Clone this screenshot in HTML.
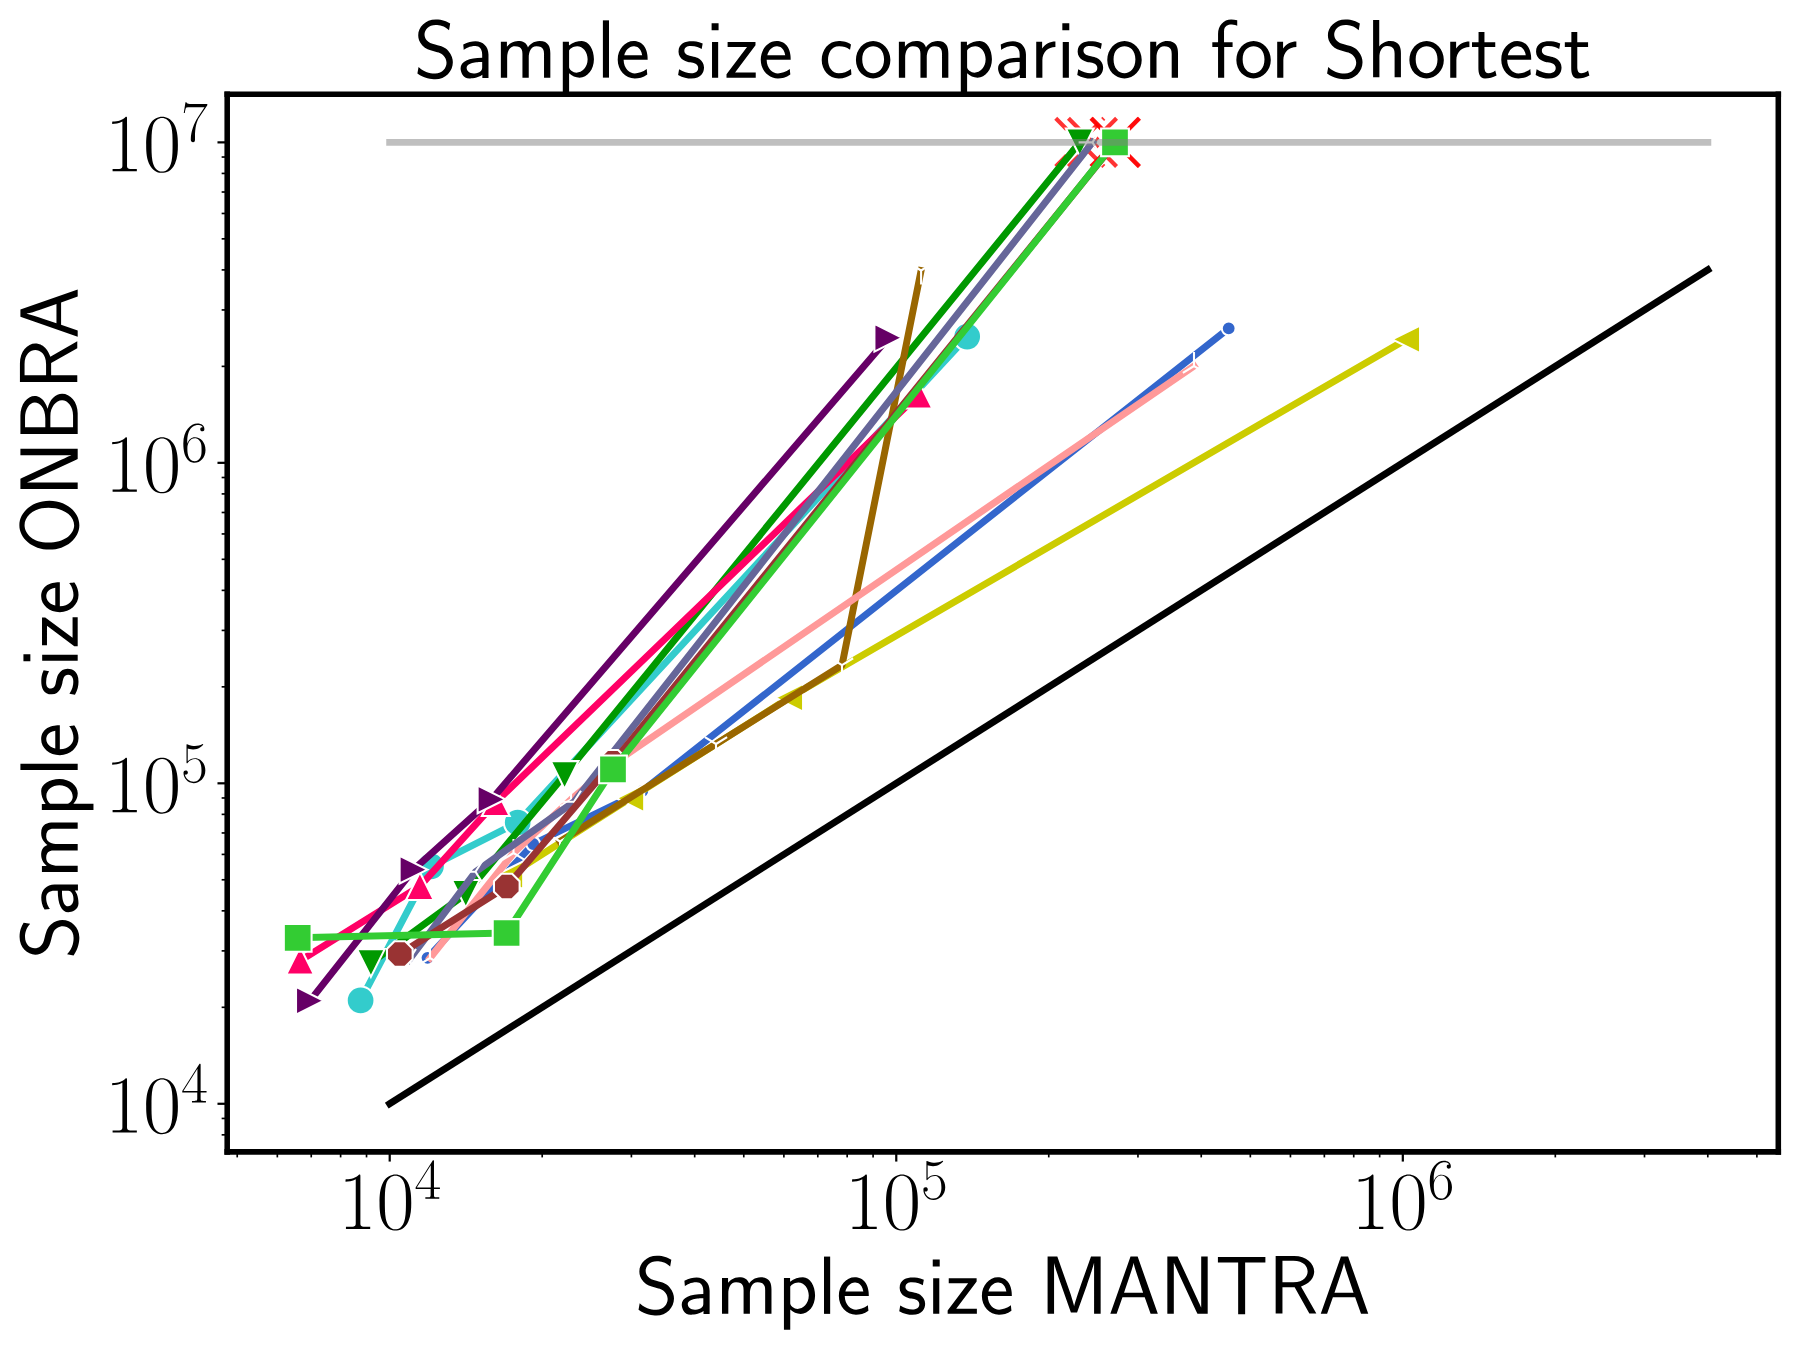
<!DOCTYPE html>
<html><head><meta charset="utf-8"><title>Sample size comparison for Shortest</title>
<style>html,body{margin:0;padding:0;background:#fff;overflow:hidden;font-family:"Liberation Sans",sans-serif}svg{display:block}</style>
</head><body>
<svg width="1798" height="1350" viewBox="0 0 647.28 486" version="1.1">
<defs>
<style type="text/css">*{stroke-linejoin: round; stroke-linecap: butt}</style>
</defs>
<g id="figure_1">
<g id="patch_1">
<path d="M 0 486
L 647.28 486
L 647.28 0
L 0 0
z
" style="fill: #ffffff"/>
</g>
<g id="axes_1">
<g id="patch_2">
<path d="M 81.792 414.666
L 640.188 414.666
L 640.188 33.948
L 81.792 33.948
z
" style="fill: #ffffff"/>
</g>
<g id="PathCollection_1">
<path d="M 380.067746 59.913618
L 397.388254 42.59311
M 380.067746 42.59311
L 397.388254 59.913618
" clip-path="url(#pe39c91df15)" style="fill: #ff0000; fill-opacity: 0.8; stroke-dasharray: 5.55,2.4; stroke-dashoffset: 0; stroke: #ff0000; stroke-opacity: 0.8; stroke-width: 1.5"/>
<path d="M 384.639746 59.913618
L 401.960254 42.59311
M 384.639746 42.59311
L 401.960254 59.913618
" clip-path="url(#pe39c91df15)" style="fill: #ff0000; fill-opacity: 0.8; stroke-dasharray: 5.55,3.9225; stroke-dashoffset: 0; stroke: #ff0000; stroke-opacity: 0.8; stroke-width: 1.5"/>
<path d="M 392.919746 59.913618
L 410.240254 42.59311
M 392.919746 42.59311
L 410.240254 59.913618
" clip-path="url(#pe39c91df15)" style="fill: #ff0000; fill-opacity: 0.8; stroke-dasharray: 5.55,3.9225; stroke-dashoffset: 0; stroke: #ff0000; stroke-opacity: 0.8; stroke-width: 1.5"/>
<path d="M 392.739746 59.913618
L 410.060254 42.59311
M 392.739746 42.59311
L 410.060254 59.913618
" clip-path="url(#pe39c91df15)" style="fill: #ff0000; fill-opacity: 0.8; stroke-dasharray: 5.55,3.9225; stroke-dashoffset: 0; stroke: #ff0000; stroke-opacity: 0.8; stroke-width: 1.5"/>
</g>
<g id="matplotlib.axis_1">
<g id="xtick_1">
<g id="line2d_1">
<defs>
<path id="m7c25c535dc" d="M 0 0
L 0 3.5
" style="stroke: #000000; stroke-width: 0.8"/>
</defs>
<g>
<use href="#m7c25c535dc" x="140.295691" y="414.666" style="stroke: #000000; stroke-width: 0.8"/>
</g>
</g>
<g id="text_1">
<!-- $\mathdefault{10^{4}}$ -->
<g transform="translate(121.791071 442.421495) scale(0.3 -0.3)">
<defs>
<path id="CMR17-31" d="M 1702 4058
C 1702 4192 1696 4192 1606 4192
C 1357 3916 979 3827 621 3827
C 602 3827 570 3827 563 3808
C 557 3795 557 3782 557 3648
C 755 3648 1088 3686 1344 3839
L 1344 461
C 1344 236 1331 160 781 160
L 589 160
L 589 0
C 896 0 1216 0 1523 0
C 1830 0 2150 0 2458 0
L 2458 160
L 2266 160
C 1715 160 1702 230 1702 458
L 1702 4058
z
" transform="scale(0.015625)"/>
<path id="CMR17-30" d="M 2688 2025
C 2688 2416 2682 3080 2413 3591
C 2176 4039 1798 4198 1466 4198
C 1158 4198 768 4058 525 3597
C 269 3118 243 2524 243 2025
C 243 1661 250 1106 448 619
C 723 -39 1216 -128 1466 -128
C 1760 -128 2208 -7 2470 600
C 2662 1042 2688 1559 2688 2025
z
M 1466 -26
C 1056 -26 813 325 723 812
C 653 1188 653 1738 653 2096
C 653 2588 653 2997 736 3387
C 858 3929 1216 4096 1466 4096
C 1728 4096 2067 3923 2189 3400
C 2272 3036 2278 2607 2278 2096
C 2278 1680 2278 1169 2202 792
C 2067 95 1690 -26 1466 -26
z
" transform="scale(0.015625)"/>
<path id="CMR17-34" d="M 2150 4122
C 2150 4256 2144 4256 2029 4256
L 128 1254
L 128 1088
L 1779 1088
L 1779 457
C 1779 224 1766 160 1318 160
L 1197 160
L 1197 0
C 1402 0 1747 0 1965 0
C 2182 0 2528 0 2733 0
L 2733 160
L 2611 160
C 2163 160 2150 224 2150 457
L 2150 1088
L 2803 1088
L 2803 1254
L 2150 1254
L 2150 4122
z
M 1798 3703
L 1798 1254
L 256 1254
L 1798 3703
z
" transform="scale(0.015625)"/>
</defs>
<use href="#CMR17-31" transform="scale(0.996264)"/>
<use href="#CMR17-30" transform="translate(45.690477 0) scale(0.996264)"/>
<use href="#CMR17-34" transform="translate(91.380954 36.153639) scale(0.697382)"/>
</g>
</g>
</g>
<g id="xtick_2">
<g id="line2d_2">
<g>
<use href="#m7c25c535dc" x="322.655279" y="414.666" style="stroke: #000000; stroke-width: 0.8"/>
</g>
</g>
<g id="text_2">
<!-- $\mathdefault{10^{5}}$ -->
<g transform="translate(304.150659 442.421495) scale(0.3 -0.3)">
<defs>
<path id="CMR17-35" d="M 730 3692
C 794 3666 1056 3584 1325 3584
C 1920 3584 2246 3911 2432 4100
C 2432 4157 2432 4192 2394 4192
C 2387 4192 2374 4192 2323 4163
C 2099 4058 1837 3973 1517 3973
C 1325 3973 1037 3999 723 4139
C 653 4171 640 4171 634 4171
C 602 4171 595 4164 595 4037
L 595 2203
C 595 2089 595 2057 659 2057
C 691 2057 704 2070 736 2114
C 941 2401 1222 2522 1542 2522
C 1766 2522 2246 2382 2246 1289
C 2246 1085 2246 715 2054 421
C 1894 159 1645 25 1370 25
C 947 25 518 320 403 814
C 429 807 480 795 506 795
C 589 795 749 840 749 1038
C 749 1210 627 1280 506 1280
C 358 1280 262 1190 262 1011
C 262 454 704 -128 1382 -128
C 2042 -128 2669 440 2669 1264
C 2669 2030 2170 2624 1549 2624
C 1222 2624 947 2503 730 2274
L 730 3692
z
" transform="scale(0.015625)"/>
</defs>
<use href="#CMR17-31" transform="scale(0.996264)"/>
<use href="#CMR17-30" transform="translate(45.690477 0) scale(0.996264)"/>
<use href="#CMR17-35" transform="translate(91.380954 36.153639) scale(0.697382)"/>
</g>
</g>
</g>
<g id="xtick_3">
<g id="line2d_3">
<g>
<use href="#m7c25c535dc" x="505.014867" y="414.666" style="stroke: #000000; stroke-width: 0.8"/>
</g>
</g>
<g id="text_3">
<!-- $\mathdefault{10^{6}}$ -->
<g transform="translate(486.510247 442.421495) scale(0.3 -0.3)">
<defs>
<path id="CMR17-36" d="M 678 2176
C 678 3690 1395 4032 1811 4032
C 1946 4032 2272 4009 2400 3776
C 2298 3776 2106 3776 2106 3553
C 2106 3381 2246 3323 2336 3323
C 2394 3323 2566 3348 2566 3560
C 2566 3954 2246 4179 1805 4179
C 1043 4179 243 3390 243 1984
C 243 253 966 -128 1478 -128
C 2099 -128 2688 427 2688 1283
C 2688 2081 2170 2662 1517 2662
C 1126 2662 838 2407 678 1960
L 678 2176
z
M 1478 25
C 691 25 691 1200 691 1436
C 691 1896 909 2560 1504 2560
C 1613 2560 1926 2560 2138 2120
C 2253 1870 2253 1609 2253 1289
C 2253 944 2253 690 2118 434
C 1978 171 1773 25 1478 25
z
" transform="scale(0.015625)"/>
</defs>
<use href="#CMR17-31" transform="scale(0.996264)"/>
<use href="#CMR17-30" transform="translate(45.690477 0) scale(0.996264)"/>
<use href="#CMR17-36" transform="translate(91.380954 36.153639) scale(0.697382)"/>
</g>
</g>
</g>
<g id="xtick_4">
<g id="line2d_4">
<defs>
<path id="m0d65b069a9" d="M 0 0
L 0 2
" style="stroke: #000000; stroke-width: 0.6"/>
</defs>
<g>
<use href="#m0d65b069a9" x="85.399985" y="414.666" style="stroke: #000000; stroke-width: 0.6"/>
</g>
</g>
</g>
<g id="xtick_5">
<g id="line2d_5">
<g>
<use href="#m0d65b069a9" x="99.839445" y="414.666" style="stroke: #000000; stroke-width: 0.6"/>
</g>
</g>
</g>
<g id="xtick_6">
<g id="line2d_6">
<g>
<use href="#m0d65b069a9" x="112.047834" y="414.666" style="stroke: #000000; stroke-width: 0.6"/>
</g>
</g>
</g>
<g id="xtick_7">
<g id="line2d_7">
<g>
<use href="#m0d65b069a9" x="122.623221" y="414.666" style="stroke: #000000; stroke-width: 0.6"/>
</g>
</g>
</g>
<g id="xtick_8">
<g id="line2d_8">
<g>
<use href="#m0d65b069a9" x="131.951374" y="414.666" style="stroke: #000000; stroke-width: 0.6"/>
</g>
</g>
</g>
<g id="xtick_9">
<g id="line2d_9">
<g>
<use href="#m0d65b069a9" x="195.191397" y="414.666" style="stroke: #000000; stroke-width: 0.6"/>
</g>
</g>
</g>
<g id="xtick_10">
<g id="line2d_10">
<g>
<use href="#m0d65b069a9" x="227.303327" y="414.666" style="stroke: #000000; stroke-width: 0.6"/>
</g>
</g>
</g>
<g id="xtick_11">
<g id="line2d_11">
<g>
<use href="#m0d65b069a9" x="250.087103" y="414.666" style="stroke: #000000; stroke-width: 0.6"/>
</g>
</g>
</g>
<g id="xtick_12">
<g id="line2d_12">
<g>
<use href="#m0d65b069a9" x="267.759573" y="414.666" style="stroke: #000000; stroke-width: 0.6"/>
</g>
</g>
</g>
<g id="xtick_13">
<g id="line2d_13">
<g>
<use href="#m0d65b069a9" x="282.199033" y="414.666" style="stroke: #000000; stroke-width: 0.6"/>
</g>
</g>
</g>
<g id="xtick_14">
<g id="line2d_14">
<g>
<use href="#m0d65b069a9" x="294.407422" y="414.666" style="stroke: #000000; stroke-width: 0.6"/>
</g>
</g>
</g>
<g id="xtick_15">
<g id="line2d_15">
<g>
<use href="#m0d65b069a9" x="304.982809" y="414.666" style="stroke: #000000; stroke-width: 0.6"/>
</g>
</g>
</g>
<g id="xtick_16">
<g id="line2d_16">
<g>
<use href="#m0d65b069a9" x="314.310962" y="414.666" style="stroke: #000000; stroke-width: 0.6"/>
</g>
</g>
</g>
<g id="xtick_17">
<g id="line2d_17">
<g>
<use href="#m0d65b069a9" x="377.550985" y="414.666" style="stroke: #000000; stroke-width: 0.6"/>
</g>
</g>
</g>
<g id="xtick_18">
<g id="line2d_18">
<g>
<use href="#m0d65b069a9" x="409.662915" y="414.666" style="stroke: #000000; stroke-width: 0.6"/>
</g>
</g>
</g>
<g id="xtick_19">
<g id="line2d_19">
<g>
<use href="#m0d65b069a9" x="432.446691" y="414.666" style="stroke: #000000; stroke-width: 0.6"/>
</g>
</g>
</g>
<g id="xtick_20">
<g id="line2d_20">
<g>
<use href="#m0d65b069a9" x="450.119161" y="414.666" style="stroke: #000000; stroke-width: 0.6"/>
</g>
</g>
</g>
<g id="xtick_21">
<g id="line2d_21">
<g>
<use href="#m0d65b069a9" x="464.558621" y="414.666" style="stroke: #000000; stroke-width: 0.6"/>
</g>
</g>
</g>
<g id="xtick_22">
<g id="line2d_22">
<g>
<use href="#m0d65b069a9" x="476.76701" y="414.666" style="stroke: #000000; stroke-width: 0.6"/>
</g>
</g>
</g>
<g id="xtick_23">
<g id="line2d_23">
<g>
<use href="#m0d65b069a9" x="487.342397" y="414.666" style="stroke: #000000; stroke-width: 0.6"/>
</g>
</g>
</g>
<g id="xtick_24">
<g id="line2d_24">
<g>
<use href="#m0d65b069a9" x="496.67055" y="414.666" style="stroke: #000000; stroke-width: 0.6"/>
</g>
</g>
</g>
<g id="xtick_25">
<g id="line2d_25">
<g>
<use href="#m0d65b069a9" x="559.910573" y="414.666" style="stroke: #000000; stroke-width: 0.6"/>
</g>
</g>
</g>
<g id="xtick_26">
<g id="line2d_26">
<g>
<use href="#m0d65b069a9" x="592.022503" y="414.666" style="stroke: #000000; stroke-width: 0.6"/>
</g>
</g>
</g>
<g id="xtick_27">
<g id="line2d_27">
<g>
<use href="#m0d65b069a9" x="614.806279" y="414.666" style="stroke: #000000; stroke-width: 0.6"/>
</g>
</g>
</g>
<g id="xtick_28">
<g id="line2d_28">
<g>
<use href="#m0d65b069a9" x="632.478749" y="414.666" style="stroke: #000000; stroke-width: 0.6"/>
</g>
</g>
</g>
<g id="text_4">
<!-- Sample size MANTRA -->
<g transform="translate(228.614711 472.990441) scale(0.3 -0.3)">
<defs>
<path id="CMSS17-53" d="M 2797 4169
C 2515 4334 2208 4480 1690 4480
C 864 4480 333 3879 333 3266
C 333 3025 403 2753 653 2475
C 902 2196 1184 2121 1542 2033
C 1690 1994 1939 1924 1984 1906
C 2342 1767 2515 1444 2515 1140
C 2515 742 2202 318 1645 318
C 1453 318 890 318 358 819
L 269 318
C 794 -64 1363 -128 1651 -128
C 2438 -128 3002 488 3002 1186
C 3002 1440 2925 1763 2656 2061
C 2394 2347 2163 2410 1638 2549
C 1338 2626 1146 2677 986 2873
C 877 3013 819 3146 819 3317
C 819 3673 1126 4060 1690 4060
C 1971 4060 2336 4002 2707 3660
L 2797 4169
z
" transform="scale(0.015625)"/>
<path id="CMSS17-61" d="M 2406 1791
C 2406 2392 1978 2808 1402 2808
C 1120 2808 813 2757 461 2553
L 499 2135
C 659 2248 934 2432 1395 2432
C 1722 2432 1920 2180 1920 1782
L 1920 1536
C 896 1536 256 1238 256 726
C 256 461 416 -64 947 -64
C 1043 -64 1562 -64 1933 217
L 1933 -19
L 2406 -19
L 2406 1791
z
M 1920 816
C 1920 701 1920 548 1728 434
C 1562 325 1350 325 1261 325
C 941 325 723 511 723 744
C 723 1211 1722 1211 1920 1211
L 1920 816
z
" transform="scale(0.015625)"/>
<path id="CMSS17-6d" d="M 4288 1877
C 4288 2308 4179 2816 3462 2816
C 2982 2816 2694 2516 2566 2331
C 2451 2670 2182 2816 1798 2816
C 1363 2816 1088 2568 941 2389
L 941 2758
L 474 2758
L 474 0
L 960 0
L 960 1559
C 960 1939 1101 2428 1555 2428
C 2138 2428 2138 2016 2138 1829
L 2138 0
L 2624 0
L 2624 1559
C 2624 1939 2765 2428 3219 2428
C 3802 2428 3802 2016 3802 1829
L 3802 0
L 4288 0
L 4288 1877
z
" transform="scale(0.015625)"/>
<path id="CMSS17-70" d="M 966 333
C 1178 129 1466 -5 1773 -5
C 2368 -5 2880 603 2880 1412
C 2880 2159 2496 2816 1946 2816
C 1626 2816 1242 2702 954 2472
L 954 2765
L 480 2765
L 480 -1216
L 966 -1216
L 966 333
z
M 966 2100
C 1018 2176 1235 2415 1587 2415
C 2035 2415 2394 1960 2394 1412
C 2394 787 1958 384 1530 384
C 1402 384 1267 415 1139 523
C 966 674 966 768 966 857
L 966 2100
z
" transform="scale(0.015625)"/>
<path id="CMSS17-6c" d="M 947 4416
L 474 4416
L 474 0
L 947 0
L 947 4416
z
" transform="scale(0.015625)"/>
<path id="CMSS17-65" d="M 2502 1377
C 2502 1590 2490 2003 2285 2345
C 2061 2713 1696 2816 1421 2816
C 755 2816 192 2188 192 1375
C 192 582 774 -64 1510 -64
C 1798 -64 2150 19 2470 248
C 2470 274 2458 414 2451 420
C 2451 433 2432 630 2432 656
C 2125 407 1773 325 1517 325
C 1107 325 666 667 646 1377
L 2502 1377
z
M 698 1728
C 781 2084 1062 2421 1421 2421
C 1517 2421 1965 2421 2080 1728
L 698 1728
z
" transform="scale(0.015625)"/>
<path id="CMSS17-73" d="M 2061 2627
C 1683 2807 1389 2807 1197 2807
C 742 2807 198 2648 198 2003
C 198 1359 902 1218 1094 1179
C 1389 1122 1715 1058 1715 740
C 1715 337 1254 337 1171 337
C 915 337 563 407 243 638
L 166 210
C 531 0 883 -64 1178 -64
C 1965 -64 2163 416 2163 781
C 2163 1094 1984 1305 1862 1401
C 1651 1568 1574 1587 1050 1696
C 960 1709 646 1779 646 2066
C 646 2432 1050 2432 1139 2432
C 1555 2432 1811 2303 1984 2208
L 2061 2627
z
" transform="scale(0.015625)"/>
<path id="CMSS17-69" d="M 979 4183
L 442 4183
L 442 3648
L 979 3648
L 979 4183
z
M 947 2739
L 474 2739
L 474 0
L 947 0
L 947 2739
z
" transform="scale(0.015625)"/>
<path id="CMSS17-7a" d="M 2400 2502
L 2400 2750
L 250 2750
L 250 2368
L 1069 2368
C 1146 2368 1222 2368 1299 2368
L 1747 2368
L 166 261
L 166 0
L 2419 0
L 2419 395
L 1549 395
C 1472 395 1395 395 1318 395
L 826 395
L 2400 2502
z
" transform="scale(0.015625)"/>
<path id="CMSS17-4d" d="M 3194 2371
L 2886 1473
C 2835 1307 2662 791 2624 587
L 2618 587
C 2598 715 2560 849 2458 1174
C 2400 1365 2336 1562 2272 1741
L 1325 4416
L 576 4416
L 576 0
L 1075 0
L 1075 3900
L 1082 3900
C 1082 3894 1139 3613 1530 2499
L 2374 96
L 2848 96
L 3610 2231
C 3661 2378 3821 2843 3891 3066
C 3955 3257 4115 3728 4154 3913
L 4160 3913
L 4160 0
L 4666 0
L 4666 4416
L 3923 4416
L 3194 2371
z
" transform="scale(0.015625)"/>
<path id="CMSS17-41" d="M 2272 4416
L 1722 4416
L 166 0
L 653 0
L 1101 1280
L 2816 1280
L 3270 0
L 3827 0
L 2272 4416
z
M 2694 1637
L 1222 1637
C 1530 2528 1914 3638 1958 3925
L 1965 3925
C 2010 3663 2138 3281 2246 2956
L 2694 1637
z
" transform="scale(0.015625)"/>
<path id="CMSS17-4e" d="M 1466 4180
L 1350 4416
L 563 4416
L 563 0
L 1062 0
L 1062 3926
L 1069 3932
C 1114 3817 1139 3760 1402 3194
L 2771 236
L 2886 0
L 3674 0
L 3674 4416
L 3174 4416
L 3174 490
L 3168 483
C 3123 598 3098 655 2835 1221
L 1466 4180
z
" transform="scale(0.015625)"/>
<path id="CMSS17-54" d="M 2317 3968
L 2848 3968
C 2925 3968 3002 3968 3078 3968
L 3878 3968
L 3878 4376
L 218 4376
L 218 3968
L 1018 3968
C 1094 3968 1171 3968 1248 3968
L 1779 3968
L 1779 -32
L 2317 -32
L 2317 3968
z
" transform="scale(0.015625)"/>
<path id="CMSS17-52" d="M 2522 2109
L 2534 2115
C 3533 2459 3539 3147 3539 3268
C 3539 3873 2925 4453 2003 4453
L 570 4453
L 570 32
L 1094 32
L 1094 2048
L 2035 2048
L 3168 32
L 3706 32
L 2522 2109
z
M 1094 2437
L 1094 4096
L 1933 4096
C 2746 4096 3034 3637 3034 3267
C 3034 2922 2778 2437 1933 2437
L 1094 2437
z
" transform="scale(0.015625)"/>
</defs>
<use href="#CMSS17-53" transform="scale(0.996264)"/>
<use href="#CMSS17-61" transform="translate(52.048516 0) scale(0.996264)"/>
<use href="#CMSS17-6d" transform="translate(96.970437 0) scale(0.996264)"/>
<use href="#CMSS17-70" transform="translate(171.199691 0) scale(0.996264)"/>
<use href="#CMSS17-6c" transform="translate(219.404634 0) scale(0.996264)"/>
<use href="#CMSS17-65" transform="translate(241.585357 0) scale(0.996264)"/>
<use href="#CMSS17-73" transform="translate(314.453292 0) scale(0.996264)"/>
<use href="#CMSS17-69" transform="translate(350.366834 0) scale(0.996264)"/>
<use href="#CMSS17-7a" transform="translate(372.547557 0) scale(0.996264)"/>
<use href="#CMSS17-65" transform="translate(413.225429 0) scale(0.996264)"/>
<use href="#CMSS17-4d" transform="translate(486.093364 0) scale(0.996264)"/>
<use href="#CMSS17-41" transform="translate(567.769394 0) scale(0.996264)"/>
<use href="#CMSS17-4e" transform="translate(629.987249 0) scale(0.996264)"/>
<use href="#CMSS17-54" transform="translate(696.048768 0) scale(0.996264)"/>
<use href="#CMSS17-52" transform="translate(759.868222 0) scale(0.996264)"/>
<use href="#CMSS17-41" transform="translate(820.284377 0) scale(0.996264)"/>
</g>
</g>
</g>
<g id="matplotlib.axis_2">
<g id="ytick_1">
<g id="line2d_29">
<defs>
<path id="mb258c49b38" d="M 0 0
L -3.5 0
" style="stroke: #000000; stroke-width: 0.8"/>
</defs>
<g>
<use href="#mb258c49b38" x="81.792" y="397.360636" style="stroke: #000000; stroke-width: 0.8"/>
</g>
</g>
<g id="text_5">
<!-- $\mathdefault{10^{4}}$ -->
<g transform="translate(37.782759 407.738384) scale(0.3 -0.3)">
<use href="#CMR17-31" transform="scale(0.996264)"/>
<use href="#CMR17-30" transform="translate(45.690477 0) scale(0.996264)"/>
<use href="#CMR17-34" transform="translate(91.380954 36.153639) scale(0.697382)"/>
</g>
</g>
</g>
<g id="ytick_2">
<g id="line2d_30">
<g>
<use href="#mb258c49b38" x="81.792" y="281.991545" style="stroke: #000000; stroke-width: 0.8"/>
</g>
</g>
<g id="text_6">
<!-- $\mathdefault{10^{5}}$ -->
<g transform="translate(37.782759 292.369293) scale(0.3 -0.3)">
<use href="#CMR17-31" transform="scale(0.996264)"/>
<use href="#CMR17-30" transform="translate(45.690477 0) scale(0.996264)"/>
<use href="#CMR17-35" transform="translate(91.380954 36.153639) scale(0.697382)"/>
</g>
</g>
</g>
<g id="ytick_3">
<g id="line2d_31">
<g>
<use href="#mb258c49b38" x="81.792" y="166.622455" style="stroke: #000000; stroke-width: 0.8"/>
</g>
</g>
<g id="text_7">
<!-- $\mathdefault{10^{6}}$ -->
<g transform="translate(37.782759 177.000202) scale(0.3 -0.3)">
<use href="#CMR17-31" transform="scale(0.996264)"/>
<use href="#CMR17-30" transform="translate(45.690477 0) scale(0.996264)"/>
<use href="#CMR17-36" transform="translate(91.380954 36.153639) scale(0.697382)"/>
</g>
</g>
</g>
<g id="ytick_4">
<g id="line2d_32">
<g>
<use href="#mb258c49b38" x="81.792" y="51.253364" style="stroke: #000000; stroke-width: 0.8"/>
</g>
</g>
<g id="text_8">
<!-- $\mathdefault{10^{7}}$ -->
<g transform="translate(37.782759 61.631111) scale(0.3 -0.3)">
<defs>
<path id="CMR17-37" d="M 2886 3941
L 2886 4081
L 1382 4081
C 634 4081 621 4165 595 4288
L 480 4288
L 294 3094
L 410 3094
C 429 3215 474 3540 550 3661
C 589 3712 1062 3712 1171 3712
L 2579 3712
L 1869 2661
C 1395 1954 1069 999 1069 165
C 1069 89 1069 -128 1299 -128
C 1530 -128 1530 89 1530 171
L 1530 465
C 1530 1508 1709 2196 2003 2636
L 2886 3941
z
" transform="scale(0.015625)"/>
</defs>
<use href="#CMR17-31" transform="scale(0.996264)"/>
<use href="#CMR17-30" transform="translate(45.690477 0) scale(0.996264)"/>
<use href="#CMR17-37" transform="translate(91.380954 36.153639) scale(0.697382)"/>
</g>
</g>
</g>
<g id="ytick_5">
<g id="line2d_33">
<defs>
<path id="m353c5a86b0" d="M 0 0
L -2 0
" style="stroke: #000000; stroke-width: 0.6"/>
</defs>
<g>
<use href="#m353c5a86b0" x="81.792" y="408.541056" style="stroke: #000000; stroke-width: 0.6"/>
</g>
</g>
</g>
<g id="ytick_6">
<g id="line2d_34">
<g>
<use href="#m353c5a86b0" x="81.792" y="402.639636" style="stroke: #000000; stroke-width: 0.6"/>
</g>
</g>
</g>
<g id="ytick_7">
<g id="line2d_35">
<g>
<use href="#m353c5a86b0" x="81.792" y="362.631079" style="stroke: #000000; stroke-width: 0.6"/>
</g>
</g>
</g>
<g id="ytick_8">
<g id="line2d_36">
<g>
<use href="#m353c5a86b0" x="81.792" y="342.315591" style="stroke: #000000; stroke-width: 0.6"/>
</g>
</g>
</g>
<g id="ytick_9">
<g id="line2d_37">
<g>
<use href="#m353c5a86b0" x="81.792" y="327.901522" style="stroke: #000000; stroke-width: 0.6"/>
</g>
</g>
</g>
<g id="ytick_10">
<g id="line2d_38">
<g>
<use href="#m353c5a86b0" x="81.792" y="316.721102" style="stroke: #000000; stroke-width: 0.6"/>
</g>
</g>
</g>
<g id="ytick_11">
<g id="line2d_39">
<g>
<use href="#m353c5a86b0" x="81.792" y="307.586034" style="stroke: #000000; stroke-width: 0.6"/>
</g>
</g>
</g>
<g id="ytick_12">
<g id="line2d_40">
<g>
<use href="#m353c5a86b0" x="81.792" y="299.862444" style="stroke: #000000; stroke-width: 0.6"/>
</g>
</g>
</g>
<g id="ytick_13">
<g id="line2d_41">
<g>
<use href="#m353c5a86b0" x="81.792" y="293.171966" style="stroke: #000000; stroke-width: 0.6"/>
</g>
</g>
</g>
<g id="ytick_14">
<g id="line2d_42">
<g>
<use href="#m353c5a86b0" x="81.792" y="287.270546" style="stroke: #000000; stroke-width: 0.6"/>
</g>
</g>
</g>
<g id="ytick_15">
<g id="line2d_43">
<g>
<use href="#m353c5a86b0" x="81.792" y="247.261989" style="stroke: #000000; stroke-width: 0.6"/>
</g>
</g>
</g>
<g id="ytick_16">
<g id="line2d_44">
<g>
<use href="#m353c5a86b0" x="81.792" y="226.9465" style="stroke: #000000; stroke-width: 0.6"/>
</g>
</g>
</g>
<g id="ytick_17">
<g id="line2d_45">
<g>
<use href="#m353c5a86b0" x="81.792" y="212.532432" style="stroke: #000000; stroke-width: 0.6"/>
</g>
</g>
</g>
<g id="ytick_18">
<g id="line2d_46">
<g>
<use href="#m353c5a86b0" x="81.792" y="201.352011" style="stroke: #000000; stroke-width: 0.6"/>
</g>
</g>
</g>
<g id="ytick_19">
<g id="line2d_47">
<g>
<use href="#m353c5a86b0" x="81.792" y="192.216943" style="stroke: #000000; stroke-width: 0.6"/>
</g>
</g>
</g>
<g id="ytick_20">
<g id="line2d_48">
<g>
<use href="#m353c5a86b0" x="81.792" y="184.493353" style="stroke: #000000; stroke-width: 0.6"/>
</g>
</g>
</g>
<g id="ytick_21">
<g id="line2d_49">
<g>
<use href="#m353c5a86b0" x="81.792" y="177.802875" style="stroke: #000000; stroke-width: 0.6"/>
</g>
</g>
</g>
<g id="ytick_22">
<g id="line2d_50">
<g>
<use href="#m353c5a86b0" x="81.792" y="171.901455" style="stroke: #000000; stroke-width: 0.6"/>
</g>
</g>
</g>
<g id="ytick_23">
<g id="line2d_51">
<g>
<use href="#m353c5a86b0" x="81.792" y="131.892898" style="stroke: #000000; stroke-width: 0.6"/>
</g>
</g>
</g>
<g id="ytick_24">
<g id="line2d_52">
<g>
<use href="#m353c5a86b0" x="81.792" y="111.577409" style="stroke: #000000; stroke-width: 0.6"/>
</g>
</g>
</g>
<g id="ytick_25">
<g id="line2d_53">
<g>
<use href="#m353c5a86b0" x="81.792" y="97.163341" style="stroke: #000000; stroke-width: 0.6"/>
</g>
</g>
</g>
<g id="ytick_26">
<g id="line2d_54">
<g>
<use href="#m353c5a86b0" x="81.792" y="85.982921" style="stroke: #000000; stroke-width: 0.6"/>
</g>
</g>
</g>
<g id="ytick_27">
<g id="line2d_55">
<g>
<use href="#m353c5a86b0" x="81.792" y="76.847852" style="stroke: #000000; stroke-width: 0.6"/>
</g>
</g>
</g>
<g id="ytick_28">
<g id="line2d_56">
<g>
<use href="#m353c5a86b0" x="81.792" y="69.124262" style="stroke: #000000; stroke-width: 0.6"/>
</g>
</g>
</g>
<g id="ytick_29">
<g id="line2d_57">
<g>
<use href="#m353c5a86b0" x="81.792" y="62.433784" style="stroke: #000000; stroke-width: 0.6"/>
</g>
</g>
</g>
<g id="ytick_30">
<g id="line2d_58">
<g>
<use href="#m353c5a86b0" x="81.792" y="56.532364" style="stroke: #000000; stroke-width: 0.6"/>
</g>
</g>
</g>
<g id="text_9">
<!-- Sample size ONBRA -->
<g transform="translate(27.969309 345.229631) rotate(-90) scale(0.3 -0.3)">
<defs>
<path id="CMSS17-4f" d="M 4096 2178
C 4096 3503 3219 4497 2214 4497
C 1210 4497 333 3497 333 2178
C 333 847 1222 -128 2214 -128
C 3206 -128 4096 847 4096 2178
z
M 2214 273
C 1510 273 870 1057 870 2261
C 870 3433 1549 4096 2214 4096
C 2880 4096 3558 3433 3558 2261
C 3558 1051 2912 273 2214 273
z
" transform="scale(0.015625)"/>
<path id="CMSS17-42" d="M 570 4416
L 570 0
L 2163 0
C 3034 0 3667 574 3667 1200
C 3667 1685 3251 2176 2502 2317
C 3334 2558 3501 3040 3501 3313
C 3501 3883 2874 4416 1997 4416
L 570 4416
z
M 1088 2496
L 1088 4059
L 1824 4059
C 2483 4059 3002 3724 3002 3306
C 3002 2926 2592 2496 1766 2496
L 1088 2496
z
M 1088 357
L 1088 2107
L 1939 2107
C 2630 2107 3162 1679 3162 1206
C 3162 772 2694 357 1984 357
L 1088 357
z
" transform="scale(0.015625)"/>
</defs>
<use href="#CMSS17-53" transform="scale(0.996264)"/>
<use href="#CMSS17-61" transform="translate(52.048516 0) scale(0.996264)"/>
<use href="#CMSS17-6d" transform="translate(96.970437 0) scale(0.996264)"/>
<use href="#CMSS17-70" transform="translate(171.199691 0) scale(0.996264)"/>
<use href="#CMSS17-6c" transform="translate(219.404634 0) scale(0.996264)"/>
<use href="#CMSS17-65" transform="translate(241.585357 0) scale(0.996264)"/>
<use href="#CMSS17-73" transform="translate(314.453292 0) scale(0.996264)"/>
<use href="#CMSS17-69" transform="translate(350.366834 0) scale(0.996264)"/>
<use href="#CMSS17-7a" transform="translate(372.547557 0) scale(0.996264)"/>
<use href="#CMSS17-65" transform="translate(413.225429 0) scale(0.996264)"/>
<use href="#CMSS17-4f" transform="translate(486.093364 0) scale(0.996264)"/>
<use href="#CMSS17-4e" transform="translate(555.117619 0) scale(0.996264)"/>
<use href="#CMSS17-42" transform="translate(621.179138 0) scale(0.996264)"/>
<use href="#CMSS17-52" transform="translate(683.517179 0) scale(0.996264)"/>
<use href="#CMSS17-41" transform="translate(743.933333 0) scale(0.996264)"/>
</g>
</g>
</g>
<g id="line2d_59">
<path d="M 153.9 344.808
L 191.952 303.84
L 231.228 284.76
L 442.332 118.188
" clip-path="url(#pe39c91df15)" style="fill: none; stroke: #3366cc; stroke-width: 2.5; stroke-linecap: square"/>
<defs>
<path id="m7587f113fb" d="M 0 2.5
C 0.663008 2.5 1.29895 2.236584 1.767767 1.767767
C 2.236584 1.29895 2.5 0.663008 2.5 0
C 2.5 -0.663008 2.236584 -1.29895 1.767767 -1.767767
C 1.29895 -2.236584 0.663008 -2.5 0 -2.5
C -0.663008 -2.5 -1.29895 -2.236584 -1.767767 -1.767767
C -2.236584 -1.29895 -2.5 -0.663008 -2.5 0
C -2.5 0.663008 -2.236584 1.29895 -1.767767 1.767767
C -1.29895 2.236584 -0.663008 2.5 0 2.5
z
" style="stroke: #ffffff; stroke-width: 0.75"/>
</defs>
<g clip-path="url(#pe39c91df15)">
<use href="#m7587f113fb" x="153.9" y="344.808" style="fill: #3366cc; stroke: #ffffff; stroke-width: 0.75"/>
<use href="#m7587f113fb" x="191.952" y="303.84" style="fill: #3366cc; stroke: #ffffff; stroke-width: 0.75"/>
<use href="#m7587f113fb" x="231.228" y="284.76" style="fill: #3366cc; stroke: #ffffff; stroke-width: 0.75"/>
<use href="#m7587f113fb" x="442.332" y="118.188" style="fill: #3366cc; stroke: #ffffff; stroke-width: 0.75"/>
</g>
</g>
<g id="line2d_60">
<path d="M 129.816 360.144
L 155.16 311.868
L 186.372 296.1
L 348.192 121.176
" clip-path="url(#pe39c91df15)" style="fill: none; stroke: #33cccc; stroke-width: 2.5; stroke-linecap: square"/>
<defs>
<path id="m87ac3f8033" d="M 0 5
C 1.326016 5 2.597899 4.473168 3.535534 3.535534
C 4.473168 2.597899 5 1.326016 5 0
C 5 -1.326016 4.473168 -2.597899 3.535534 -3.535534
C 2.597899 -4.473168 1.326016 -5 0 -5
C -1.326016 -5 -2.597899 -4.473168 -3.535534 -3.535534
C -4.473168 -2.597899 -5 -1.326016 -5 0
C -5 1.326016 -4.473168 2.597899 -3.535534 3.535534
C -2.597899 4.473168 -1.326016 5 0 5
z
" style="stroke: #ffffff; stroke-width: 0.75"/>
</defs>
<g clip-path="url(#pe39c91df15)">
<use href="#m87ac3f8033" x="129.816" y="360.144" style="fill: #33cccc; stroke: #ffffff; stroke-width: 0.75"/>
<use href="#m87ac3f8033" x="155.16" y="311.868" style="fill: #33cccc; stroke: #ffffff; stroke-width: 0.75"/>
<use href="#m87ac3f8033" x="186.372" y="296.1" style="fill: #33cccc; stroke: #ffffff; stroke-width: 0.75"/>
<use href="#m87ac3f8033" x="348.192" y="121.176" style="fill: #33cccc; stroke: #ffffff; stroke-width: 0.75"/>
</g>
</g>
<g id="line2d_61">
<path d="M 133.524 346.68
L 167.688 321.804
L 203.256 279
L 388.728 51.253364
" clip-path="url(#pe39c91df15)" style="fill: none; stroke: #009900; stroke-width: 2.5; stroke-linecap: square"/>
<defs>
<path id="m6c0f6b942e" d="M -0 5
L 5 -5
L -5 -5
z
" style="stroke: #ffffff; stroke-width: 0.75; stroke-linejoin: miter"/>
</defs>
<g clip-path="url(#pe39c91df15)">
<use href="#m6c0f6b942e" x="133.524" y="346.68" style="fill: #009900; stroke: #ffffff; stroke-width: 0.75; stroke-linejoin: miter"/>
<use href="#m6c0f6b942e" x="167.688" y="321.804" style="fill: #009900; stroke: #ffffff; stroke-width: 0.75; stroke-linejoin: miter"/>
<use href="#m6c0f6b942e" x="203.256" y="279" style="fill: #009900; stroke: #ffffff; stroke-width: 0.75; stroke-linejoin: miter"/>
<use href="#m6c0f6b942e" x="388.728" y="51.253364" style="fill: #009900; stroke: #ffffff; stroke-width: 0.75; stroke-linejoin: miter"/>
</g>
</g>
<g id="line2d_62">
<path d="M 108.036 345.852
L 151.164 318.996
L 178.488 288.756
L 330.66 142.056
" clip-path="url(#pe39c91df15)" style="fill: none; stroke: #ff0066; stroke-width: 2.5; stroke-linecap: square"/>
<defs>
<path id="me09860c07a" d="M 0 -5
L -5 5
L 5 5
z
" style="stroke: #ffffff; stroke-width: 0.75; stroke-linejoin: miter"/>
</defs>
<g clip-path="url(#pe39c91df15)">
<use href="#me09860c07a" x="108.036" y="345.852" style="fill: #ff0066; stroke: #ffffff; stroke-width: 0.75; stroke-linejoin: miter"/>
<use href="#me09860c07a" x="151.164" y="318.996" style="fill: #ff0066; stroke: #ffffff; stroke-width: 0.75; stroke-linejoin: miter"/>
<use href="#me09860c07a" x="178.488" y="288.756" style="fill: #ff0066; stroke: #ffffff; stroke-width: 0.75; stroke-linejoin: miter"/>
<use href="#me09860c07a" x="330.66" y="142.056" style="fill: #ff0066; stroke: #ffffff; stroke-width: 0.75; stroke-linejoin: miter"/>
</g>
</g>
<g id="line2d_63">
<path d="M 183.348 315.108
L 226.908 287.388
L 284.112 251.208
L 506.232 122.184
" clip-path="url(#pe39c91df15)" style="fill: none; stroke: #cccc00; stroke-width: 2.5; stroke-linecap: square"/>
<defs>
<path id="m854efb7e8a" d="M -5 -0
L 5 5
L 5 -5
z
" style="stroke: #ffffff; stroke-width: 0.75; stroke-linejoin: miter"/>
</defs>
<g clip-path="url(#pe39c91df15)">
<use href="#m854efb7e8a" x="183.348" y="315.108" style="fill: #cccc00; stroke: #ffffff; stroke-width: 0.75; stroke-linejoin: miter"/>
<use href="#m854efb7e8a" x="226.908" y="287.388" style="fill: #cccc00; stroke: #ffffff; stroke-width: 0.75; stroke-linejoin: miter"/>
<use href="#m854efb7e8a" x="284.112" y="251.208" style="fill: #cccc00; stroke: #ffffff; stroke-width: 0.75; stroke-linejoin: miter"/>
<use href="#m854efb7e8a" x="506.232" y="122.184" style="fill: #cccc00; stroke: #ffffff; stroke-width: 0.75; stroke-linejoin: miter"/>
</g>
</g>
<g id="line2d_64">
<path d="M 111.564 360.288
L 148.86 313.056
L 176.94 287.784
L 319.788 121.608
" clip-path="url(#pe39c91df15)" style="fill: none; stroke: #660066; stroke-width: 2.5; stroke-linecap: square"/>
<defs>
<path id="m42080840bc" d="M 5 0
L -5 -5
L -5 5
z
" style="stroke: #ffffff; stroke-width: 0.75; stroke-linejoin: miter"/>
</defs>
<g clip-path="url(#pe39c91df15)">
<use href="#m42080840bc" x="111.564" y="360.288" style="fill: #660066; stroke: #ffffff; stroke-width: 0.75; stroke-linejoin: miter"/>
<use href="#m42080840bc" x="148.86" y="313.056" style="fill: #660066; stroke: #ffffff; stroke-width: 0.75; stroke-linejoin: miter"/>
<use href="#m42080840bc" x="176.94" y="287.784" style="fill: #660066; stroke: #ffffff; stroke-width: 0.75; stroke-linejoin: miter"/>
<use href="#m42080840bc" x="319.788" y="121.608" style="fill: #660066; stroke: #ffffff; stroke-width: 0.75; stroke-linejoin: miter"/>
</g>
</g>
<g id="line2d_65">
<path d="M 201.6 302.94
L 257.76 267.84
L 303.12 239.472
L 331.596 97.38
" clip-path="url(#pe39c91df15)" style="fill: none; stroke: #996600; stroke-width: 2.5; stroke-linecap: square"/>
<defs>
<path id="m2241b5c961" d="M 0 0
L 0 5
M 0 0
L 4 -2.5
M 0 0
L -4 -2.5
" style="stroke: #ffffff; stroke-width: 0.75"/>
</defs>
<g clip-path="url(#pe39c91df15)">
<use href="#m2241b5c961" x="201.6" y="302.94" style="fill: #996600; stroke: #ffffff; stroke-width: 0.75"/>
<use href="#m2241b5c961" x="257.76" y="267.84" style="fill: #996600; stroke: #ffffff; stroke-width: 0.75"/>
<use href="#m2241b5c961" x="303.12" y="239.472" style="fill: #996600; stroke: #ffffff; stroke-width: 0.75"/>
<use href="#m2241b5c961" x="331.596" y="97.38" style="fill: #996600; stroke: #ffffff; stroke-width: 0.75"/>
</g>
</g>
<g id="line2d_66">
<path d="M 154.8 344.88
L 184.86 307.08
L 205.56 287.82
L 221.4 274.5
L 429.84 131.76
" clip-path="url(#pe39c91df15)" style="fill: none; stroke: #ff9999; stroke-width: 2.5; stroke-linecap: square"/>
<defs>
<path id="md89c9aa3c8" d="M 0 0
L 0 -5
M 0 0
L -4 2.5
M 0 0
L 4 2.5
" style="stroke: #ffffff; stroke-width: 0.75"/>
</defs>
<g clip-path="url(#pe39c91df15)">
<use href="#md89c9aa3c8" x="154.8" y="344.88" style="fill: #ff9999; stroke: #ffffff; stroke-width: 0.75"/>
<use href="#md89c9aa3c8" x="184.86" y="307.08" style="fill: #ff9999; stroke: #ffffff; stroke-width: 0.75"/>
<use href="#md89c9aa3c8" x="205.56" y="287.82" style="fill: #ff9999; stroke: #ffffff; stroke-width: 0.75"/>
<use href="#md89c9aa3c8" x="221.4" y="274.5" style="fill: #ff9999; stroke: #ffffff; stroke-width: 0.75"/>
<use href="#md89c9aa3c8" x="429.84" y="131.76" style="fill: #ff9999; stroke: #ffffff; stroke-width: 0.75"/>
</g>
</g>
<g id="line2d_67">
<path d="M 147.24 345.6
L 171.18 313.848
L 206.64 288.648
L 393.3 51.253364
" clip-path="url(#pe39c91df15)" style="fill: none; stroke: #666699; stroke-width: 2.5; stroke-linecap: square"/>
<defs>
<path id="m8af51517be" d="M 0 0
L -5 -0
M 0 0
L 2.5 4
M 0 0
L 2.5 -4
" style="stroke: #ffffff; stroke-width: 0.75"/>
</defs>
<g clip-path="url(#pe39c91df15)">
<use href="#m8af51517be" x="147.24" y="345.6" style="fill: #666699; stroke: #ffffff; stroke-width: 0.75"/>
<use href="#m8af51517be" x="171.18" y="313.848" style="fill: #666699; stroke: #ffffff; stroke-width: 0.75"/>
<use href="#m8af51517be" x="206.64" y="288.648" style="fill: #666699; stroke: #ffffff; stroke-width: 0.75"/>
<use href="#m8af51517be" x="393.3" y="51.253364" style="fill: #666699; stroke: #ffffff; stroke-width: 0.75"/>
</g>
</g>
<g id="line2d_68">
<path d="M 143.928 343.44
L 182.448 319.14
L 220.608 274.608
L 401.58 51.253364
" clip-path="url(#pe39c91df15)" style="fill: none; stroke: #993333; stroke-width: 2.5; stroke-linecap: square"/>
<defs>
<path id="mbfe60f390d" d="M -1.913417 -4.619398
L -4.619398 -1.913417
L -4.619398 1.913417
L -1.913417 4.619398
L 1.913417 4.619398
L 4.619398 1.913417
L 4.619398 -1.913417
L 1.913417 -4.619398
z
" style="stroke: #ffffff; stroke-width: 0.75; stroke-linejoin: miter"/>
</defs>
<g clip-path="url(#pe39c91df15)">
<use href="#mbfe60f390d" x="143.928" y="343.44" style="fill: #993333; stroke: #ffffff; stroke-width: 0.75; stroke-linejoin: miter"/>
<use href="#mbfe60f390d" x="182.448" y="319.14" style="fill: #993333; stroke: #ffffff; stroke-width: 0.75; stroke-linejoin: miter"/>
<use href="#mbfe60f390d" x="220.608" y="274.608" style="fill: #993333; stroke: #ffffff; stroke-width: 0.75; stroke-linejoin: miter"/>
<use href="#mbfe60f390d" x="401.58" y="51.253364" style="fill: #993333; stroke: #ffffff; stroke-width: 0.75; stroke-linejoin: miter"/>
</g>
</g>
<g id="line2d_69">
<path d="M 107.172 337.608
L 182.376 335.88
L 220.68 276.984
L 401.4 51.253364
" clip-path="url(#pe39c91df15)" style="fill: none; stroke: #33cc33; stroke-width: 2.5; stroke-linecap: square"/>
<defs>
<path id="m14f0c74358" d="M -5 5
L 5 5
L 5 -5
L -5 -5
z
" style="stroke: #ffffff; stroke-width: 0.75; stroke-linejoin: miter"/>
</defs>
<g clip-path="url(#pe39c91df15)">
<use href="#m14f0c74358" x="107.172" y="337.608" style="fill: #33cc33; stroke: #ffffff; stroke-width: 0.75; stroke-linejoin: miter"/>
<use href="#m14f0c74358" x="182.376" y="335.88" style="fill: #33cc33; stroke: #ffffff; stroke-width: 0.75; stroke-linejoin: miter"/>
<use href="#m14f0c74358" x="220.68" y="276.984" style="fill: #33cc33; stroke: #ffffff; stroke-width: 0.75; stroke-linejoin: miter"/>
<use href="#m14f0c74358" x="401.4" y="51.253364" style="fill: #33cc33; stroke: #ffffff; stroke-width: 0.75; stroke-linejoin: miter"/>
</g>
</g>
<g id="line2d_70">
<path d="M 140.295691 397.360636
L 614.806279 97.163341
" clip-path="url(#pe39c91df15)" style="fill: none; stroke: #000000; stroke-width: 2.5; stroke-linecap: square"/>
</g>
<g id="line2d_71">
<path d="M 140.295691 51.253364
L 614.806279 51.253364
" clip-path="url(#pe39c91df15)" style="fill: none; stroke: #808080; stroke-opacity: 0.5; stroke-width: 2.5; stroke-linecap: square"/>
</g>
<g id="patch_3">
<path d="M 81.792 414.666
L 81.792 33.948
" style="fill: none; stroke: #000000; stroke-width: 2; stroke-linejoin: miter; stroke-linecap: square"/>
</g>
<g id="patch_4">
<path d="M 640.188 414.666
L 640.188 33.948
" style="fill: none; stroke: #000000; stroke-width: 2; stroke-linejoin: miter; stroke-linecap: square"/>
</g>
<g id="patch_5">
<path d="M 81.792 414.666
L 640.188 414.666
" style="fill: none; stroke: #000000; stroke-width: 2; stroke-linejoin: miter; stroke-linecap: square"/>
</g>
<g id="patch_6">
<path d="M 81.792 33.948
L 640.188 33.948
" style="fill: none; stroke: #000000; stroke-width: 2; stroke-linejoin: miter; stroke-linecap: square"/>
</g>
<g id="text_10">
<!-- Sample size comparison for Shortest -->
<g transform="translate(149.004474 27.948) scale(0.3 -0.3)">
<defs>
<path id="CMSS17-63" d="M 2464 2541
C 2464 2585 2170 2714 2093 2739
C 1882 2816 1613 2816 1542 2816
C 710 2816 211 2093 211 1363
C 211 595 768 -64 1517 -64
C 1946 -64 2253 76 2502 242
L 2464 664
C 2189 453 1869 337 1523 337
C 1024 337 698 774 698 1369
C 698 1831 909 2414 1549 2414
C 1901 2414 2099 2343 2394 2145
L 2464 2541
z
" transform="scale(0.015625)"/>
<path id="CMSS17-6f" d="M 2829 1356
C 2829 2176 2221 2816 1504 2816
C 768 2816 173 2157 173 1356
C 173 544 787 -64 1498 -64
C 2227 -64 2829 563 2829 1356
z
M 1504 337
C 1050 337 659 709 659 1408
C 659 2151 1114 2427 1498 2427
C 1914 2427 2342 2126 2342 1408
C 2342 683 1926 337 1504 337
z
" transform="scale(0.015625)"/>
<path id="CMSS17-72" d="M 954 1363
C 954 1965 1395 2368 1958 2368
L 1958 2789
C 1549 2789 1165 2585 934 2253
L 934 2758
L 480 2758
L 480 0
L 954 0
L 954 1363
z
" transform="scale(0.015625)"/>
<path id="CMSS17-6e" d="M 2618 1877
C 2618 2283 2522 2816 1798 2816
C 1389 2816 1120 2606 941 2389
L 941 2758
L 474 2758
L 474 0
L 960 0
L 960 1559
C 960 1964 1114 2428 1549 2428
C 2112 2428 2131 2048 2131 1829
L 2131 0
L 2618 0
L 2618 1877
z
" transform="scale(0.015625)"/>
<path id="CMSS17-66" d="M 1075 2368
L 1722 2368
L 1722 2737
L 1062 2737
L 1062 3559
C 1062 4014 1408 4092 1606 4092
C 1670 4092 1850 4092 2080 4009
L 2080 4429
C 1933 4461 1754 4480 1613 4480
C 1018 4480 602 3993 602 3359
L 602 2737
L 160 2737
L 160 2368
L 602 2368
L 602 0
L 1075 0
L 1075 2368
z
" transform="scale(0.015625)"/>
<path id="CMSS17-68" d="M 2618 1891
C 2618 2292 2522 2820 1798 2820
C 1395 2820 1133 2623 947 2407
L 947 4448
L 474 4448
L 474 32
L 960 32
L 960 1573
C 960 1973 1114 2432 1549 2432
C 2112 2432 2131 2056 2131 1839
L 2131 32
L 2618 32
L 2618 1891
z
" transform="scale(0.015625)"/>
<path id="CMSS17-74" d="M 1069 2368
L 1901 2368
L 1901 2737
L 1069 2737
L 1069 3520
L 614 3520
L 614 2737
L 109 2737
L 109 2368
L 602 2368
L 602 749
C 602 384 685 -64 1107 -64
C 1427 -64 1722 25 2003 172
L 1901 548
C 1747 414 1562 337 1363 337
C 1082 337 1069 696 1069 856
L 1069 2368
z
" transform="scale(0.015625)"/>
</defs>
<use href="#CMSS17-53" transform="scale(0.996264)"/>
<use href="#CMSS17-61" transform="translate(52.048516 0) scale(0.996264)"/>
<use href="#CMSS17-6d" transform="translate(96.970437 0) scale(0.996264)"/>
<use href="#CMSS17-70" transform="translate(171.199691 0) scale(0.996264)"/>
<use href="#CMSS17-6c" transform="translate(219.404634 0) scale(0.996264)"/>
<use href="#CMSS17-65" transform="translate(241.585357 0) scale(0.996264)"/>
<use href="#CMSS17-73" transform="translate(314.453292 0) scale(0.996264)"/>
<use href="#CMSS17-69" transform="translate(350.366834 0) scale(0.996264)"/>
<use href="#CMSS17-7a" transform="translate(372.547557 0) scale(0.996264)"/>
<use href="#CMSS17-65" transform="translate(413.225429 0) scale(0.996264)"/>
<use href="#CMSS17-63" transform="translate(486.093364 0) scale(0.996264)"/>
<use href="#CMSS17-6f" transform="translate(527.732186 0) scale(0.996264)"/>
<use href="#CMSS17-6d" transform="translate(574.575809 0) scale(0.996264)"/>
<use href="#CMSS17-70" transform="translate(648.805064 0) scale(0.996264)"/>
<use href="#CMSS17-61" transform="translate(697.010007 0) scale(0.996264)"/>
<use href="#CMSS17-72" transform="translate(739.329474 0) scale(0.996264)"/>
<use href="#CMSS17-69" transform="translate(771.239246 0) scale(0.996264)"/>
<use href="#CMSS17-73" transform="translate(793.419969 0) scale(0.996264)"/>
<use href="#CMSS17-6f" transform="translate(829.333511 0) scale(0.996264)"/>
<use href="#CMSS17-6e" transform="translate(876.177135 0) scale(0.996264)"/>
<use href="#CMSS17-66" transform="translate(955.611191 0) scale(0.996264)"/>
<use href="#CMSS17-6f" transform="translate(984.23785 0) scale(0.996264)"/>
<use href="#CMSS17-72" transform="translate(1028.479019 0) scale(0.996264)"/>
<use href="#CMSS17-53" transform="translate(1091.617904 0) scale(0.996264)"/>
<use href="#CMSS17-68" transform="translate(1143.666421 0) scale(0.996264)"/>
<use href="#CMSS17-6f" transform="translate(1191.871364 0) scale(0.996264)"/>
<use href="#CMSS17-72" transform="translate(1236.112533 0) scale(0.996264)"/>
<use href="#CMSS17-74" transform="translate(1268.022306 0) scale(0.996264)"/>
<use href="#CMSS17-65" transform="translate(1301.853873 0) scale(0.996264)"/>
<use href="#CMSS17-73" transform="translate(1343.492695 0) scale(0.996264)"/>
<use href="#CMSS17-74" transform="translate(1379.406237 0) scale(0.996264)"/>
</g>
</g>
</g>
</g>
<defs>
<clipPath id="pe39c91df15">
<rect x="81.792" y="33.948" width="558.396" height="380.718"/>
</clipPath>
</defs>
</svg>

</body></html>
